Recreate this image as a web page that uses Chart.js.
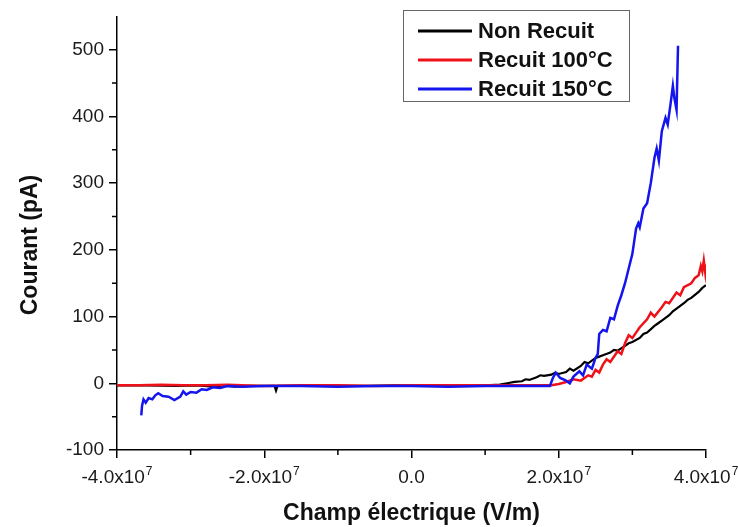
<!DOCTYPE html>
<html>
<head>
<meta charset="utf-8">
<script src="https://cdn.jsdelivr.net/npm/chart.js@4.4.0/dist/chart.umd.min.js"></script>
<style>
  html, body { margin: 0; padding: 0; background: #fff; }
</style>
</head>
<body>
<canvas id="ivChart" width="738" height="527"></canvas>
<script>
// champ electrique in units of 1e7 V/m, courant in pA
const seriesLabels = ['Non Recuit', 'Recuit 100°C', 'Recuit 150°C'];

const nonRecuitX = [-4.0, -3.6, -3.2, -2.9, -2.7, -2.55, -2.4, -2.2, -2.0, -1.86, -1.84, -1.82, -1.6, -1.3, -1.0, -0.6, -0.2, 0.2, 0.6, 1.0,
  1.2, 1.3, 1.4, 1.5, 1.55, 1.6, 1.7, 1.75, 1.8, 1.9, 1.95, 2.0, 2.1, 2.15, 2.2, 2.3, 2.35, 2.4, 2.5, 2.55,
  2.6, 2.7, 2.75, 2.8, 2.9, 2.95, 3.0, 3.1, 3.15, 3.2, 3.3, 3.35, 3.4, 3.5, 3.55, 3.6, 3.7, 3.75, 3.8, 3.9, 3.95, 4.0];
const nonRecuitY = [-3, -3, -4, -3, -5, -3, -5, -4, -4, -4, -11, -4, -4, -3, -4, -4, -3, -4, -3, -3,
  -2, 0, 2, 3, 6, 5, 9, 12, 11, 13, 16, 14, 17, 22, 19, 26, 32, 30, 38, 40,
  42, 46, 50, 49, 56, 60, 62, 68, 74, 76, 86, 90, 94, 102, 108, 112, 120, 125, 128, 137, 143, 147];

const recuit100X = [-4.0, -3.7, -3.4, -3.1, -2.8, -2.5, -2.0, -1.5, -1.0, -0.5, 0, 0.5, 1.0, 1.5, 1.9, 2.0, 2.1, 2.2, 2.3, 2.4,
  2.45, 2.5, 2.55, 2.6, 2.65, 2.7, 2.8, 2.85, 2.9, 2.95, 3.0, 3.05, 3.1, 3.2, 3.25, 3.3, 3.4, 3.45, 3.5, 3.6,
  3.65, 3.7, 3.8, 3.85, 3.9, 3.93, 3.95, 3.97, 3.99, 4.0];
const recuit100Y = [-3, -3, -2, -3, -3, -2, -4, -3, -3, -4, -3, -3, -3, -3, -3, -1, 2, 6, 4, 12,
  10, 20, 16, 28, 36, 32, 48, 44, 60, 72, 68, 76, 84, 96, 106, 100, 114, 122, 120, 136,
  132, 144, 150, 158, 162, 176, 168, 184, 166, 178];

const recuit150X = [-3.67, -3.66, -3.64, -3.61, -3.57, -3.52, -3.48, -3.44, -3.38, -3.3, -3.22, -3.14, -3.1, -3.06, -3.0, -2.92, -2.85, -2.78, -2.7, -2.6,
  -2.5, -2.3, -2.0, -1.5, -1.0, -0.5, 0, 0.5, 1.0, 1.5, 1.88, 1.92, 1.96, 2.02, 2.1, 2.15, 2.2, 2.28, 2.33, 2.38,
  2.45, 2.5, 2.53, 2.55, 2.6, 2.65, 2.7, 2.75, 2.8, 2.85, 2.9, 2.95, 3.0, 3.05, 3.08, 3.1, 3.15, 3.2, 3.25, 3.3,
  3.33, 3.36, 3.4, 3.45, 3.48, 3.52, 3.55, 3.57, 3.6, 3.62];
const recuit150Y = [-48, -34, -24, -29, -22, -24, -18, -15, -19, -20, -25, -20, -12, -17, -13, -14, -9, -10, -6, -7,
  -4, -5, -4, -4, -5, -4, -4, -5, -4, -4, -4, 8, 16, 8, 4, 0, 10, 18, 12, 28,
  22, 38, 44, 74, 80, 78, 98, 96, 116, 132, 150, 172, 194, 232, 240, 234, 262, 270, 300, 338,
  352, 334, 378, 398, 388, 420, 446, 428, 410, 506];

const xTickValues = [-4, -2, 0, 2, 4];
const xTickBase = ['-4.0x10', '-2.0x10', '0.0', '2.0x10', '4.0x10'];
const xTickExp = ['7', '7', '', '7', '7'];
const xMinorTicks = [-3, -1, 1, 3];
const yMinorTicks = [-50, 50, 150, 250, 350, 450];

const seriesColors = ['#000000', '#ee1119', '#1414ee'];
const FONT = '"Liberation Sans", Arial, sans-serif';

function toPoints(xs, ys) {
  return xs.map((x, i) => ({x: x, y: ys[i]}));
}

Chart.defaults.font.family = FONT;
Chart.defaults.color = '#1a1a1a';

// shorter ticks between the labelled ones, x labels with exponent, y title
const axisExtras = {
  id: 'axisExtras',
  afterDraw(chart) {
    const {ctx, scales: {x, y}} = chart;
    ctx.save();
    ctx.strokeStyle = '#000';
    ctx.lineWidth = 1.5;
    ctx.beginPath();
    xMinorTicks.forEach(v => {
      const px = x.getPixelForValue(v);
      ctx.moveTo(px, y.bottom);
      ctx.lineTo(px, y.bottom + 5);
    });
    yMinorTicks.forEach(v => {
      const py = y.getPixelForValue(v);
      ctx.moveTo(x.left, py);
      ctx.lineTo(x.left - 5, py);
    });
    ctx.stroke();

    ctx.fillStyle = '#1a1a1a';
    ctx.textBaseline = 'alphabetic';
    ctx.textAlign = 'left';
    xTickValues.forEach((v, i) => {
      ctx.font = '19px ' + FONT;
      const wb = ctx.measureText(xTickBase[i]).width;
      ctx.font = '12px ' + FONT;
      const ws = xTickExp[i] ? ctx.measureText(xTickExp[i]).width + 1 : 0;
      const sx = x.getPixelForValue(v) - (wb + ws) / 2;
      ctx.font = '19px ' + FONT;
      ctx.fillText(xTickBase[i], sx, 483);
      if (xTickExp[i]) {
        ctx.font = '12px ' + FONT;
        ctx.fillText(xTickExp[i], sx + wb + 1, 475);
      }
    });

    ctx.translate(31, 245);
    ctx.rotate(-Math.PI / 2);
    ctx.font = 'bold 23px ' + FONT;
    ctx.textAlign = 'center';
    ctx.textBaseline = 'middle';
    ctx.fillStyle = '#111';
    ctx.fillText('Courant (pA)', 0, 0);
    ctx.restore();
  }
};

// boxed legend in the top right of the plot
const boxLegend = {
  id: 'boxLegend',
  afterDraw(chart) {
    const ctx = chart.ctx;
    ctx.save();
    ctx.strokeStyle = '#666';
    ctx.lineWidth = 1;
    ctx.strokeRect(403.5, 10.5, 226, 91);
    ctx.font = 'bold 22px ' + FONT;
    ctx.textBaseline = 'middle';
    ctx.fillStyle = '#111';
    seriesLabels.forEach((label, i) => {
      const yy = 31 + i * 29;
      ctx.strokeStyle = seriesColors[i];
      ctx.lineWidth = 3;
      ctx.beginPath();
      ctx.moveTo(418, yy);
      ctx.lineTo(472, yy);
      ctx.stroke();
      ctx.fillText(label, 478, yy + 1);
    });
    ctx.restore();
  }
};

const ctx = document.getElementById('ivChart').getContext('2d');
new Chart(ctx, {
  type: 'scatter',
  data: {
    datasets: [
      {
        label: seriesLabels[0],
        data: toPoints(nonRecuitX, nonRecuitY),
        borderColor: seriesColors[0],
        borderWidth: 2.2,
        showLine: true,
        pointRadius: 0,
        order: 3
      },
      {
        label: seriesLabels[1],
        data: toPoints(recuit100X, recuit100Y),
        borderColor: seriesColors[1],
        borderWidth: 2.5,
        showLine: true,
        pointRadius: 0,
        order: 2
      },
      {
        label: seriesLabels[2],
        data: toPoints(recuit150X, recuit150Y),
        borderColor: seriesColors[2],
        borderWidth: 2.5,
        showLine: true,
        pointRadius: 0,
        order: 1
      }
    ]
  },
  options: {
    responsive: false,
    animation: false,
    devicePixelRatio: 1,
    layout: {padding: {top: 16, right: 32, left: 0, bottom: 0}},
    plugins: {
      legend: {display: false},
      tooltip: {enabled: false}
    },
    scales: {
      x: {
        type: 'linear',
        min: -4,
        max: 4,
        afterFit: s => { s.height = 77; s.paddingLeft = 0; s.paddingRight = 0; },
        border: {color: '#000', width: 1.5},
        grid: {drawOnChartArea: false, drawTicks: true, tickLength: 8, tickColor: '#000', lineWidth: 1.5},
        ticks: {
          stepSize: 2,
          padding: 6,
          maxRotation: 0,
          autoSkip: false,
          color: 'rgba(0,0,0,0)',
          font: {size: 12},
          callback: v => (xTickValues.indexOf(v) < 0 ? '' : ' ')
        },
        title: {
          display: true,
          text: 'Champ électrique (V/m)',
          font: {size: 23, weight: 'bold'},
          color: '#111',
          padding: {top: 0, bottom: 0}
        }
      },
      y: {
        min: -100,
        max: 550,
        afterFit: s => { s.width = 117; },
        border: {color: '#000', width: 1.5},
        grid: {drawOnChartArea: false, drawTicks: true, tickLength: 8, tickColor: '#000', lineWidth: 1.5},
        ticks: {
          stepSize: 100,
          includeBounds: false,
          padding: 5,
          font: {size: 19}
        },
        title: {display: false}
      }
    }
  },
  plugins: [axisExtras, boxLegend]
});
</script>
</body>
</html>
